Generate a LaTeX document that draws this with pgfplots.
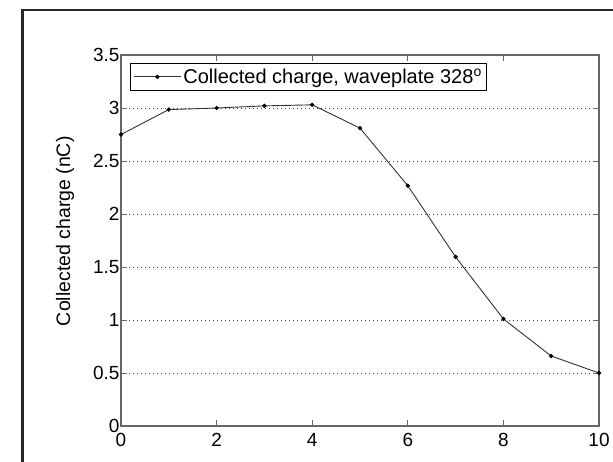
\documentclass[border=0pt]{standalone}
\usepackage{pgfplots}
\pgfplotsset{compat=1.18}
\usepackage{fontspec}
\setmainfont{Liberation Sans}
\begin{document}
\begin{tikzpicture}
\begin{axis}[
  scale only axis,
  width=478pt, height=371pt,
  at={(0pt,0pt)}, anchor=south west,
  xmin=0, xmax=10, ymin=0, ymax=3.5,
  xtick={0,2,4,6,8,10},
  ytick={0,0.5,1,1.5,2,2.5,3,3.5},
  tick align=inside,
  major tick length=6pt,
  every tick/.style={black!60, line width=0.8pt},
  axis line style={black!60, line width=1.1pt},
  ymajorgrids,
  major grid style={black!75, line width=0.8pt, dash pattern=on 1pt off 3pt},
  /pgf/number format/assume math mode=true,
  tick label style={font=\fontsize{19}{19}\selectfont},
  xticklabel style={yshift=-4pt},
  yticklabel style={xshift=2pt},
  ylabel={Collected charge (nC)},
  ylabel style={font=\fontsize{19.5}{20}\selectfont, at={(axis description cs:-0.117,0.525)}, anchor=center},
  legend style={at={(axis description cs:0.0188,0.978)}, anchor=north west,
    draw=black, line width=0.9pt, fill=white,
    font=\fontsize{20}{22}\selectfont, inner xsep=3pt, inner ysep=3pt},
  legend cell align=left,
  legend image code/.code={\draw[mark repeat=2,mark phase=2,#1] plot coordinates {(0pt,0pt) (23.5pt,0pt) (47pt,0pt)};},
]
\addplot[black!80, line width=0.9pt, mark=*, mark size=1.7pt, mark options={black, solid, fill=black}]
coordinates {
(0,2.75) (1,2.985) (2,3.0) (3,3.02) (4,3.03) (5,2.81) (6,2.267) (7,1.595) (8,1.01) (9,0.66) (10,0.50)
};
\addlegendentry{Collected charge, waveplate 328\textsuperscript{o}}
\end{axis}
\draw[black!85, line width=2.6pt] (-98.3pt,-60pt) -- (-98.3pt,416pt) -- (540pt,416pt);
\pgfresetboundingbox
\path[use as bounding box] (-121pt,-35pt) rectangle (492pt,426pt);
\end{tikzpicture}
\end{document}
